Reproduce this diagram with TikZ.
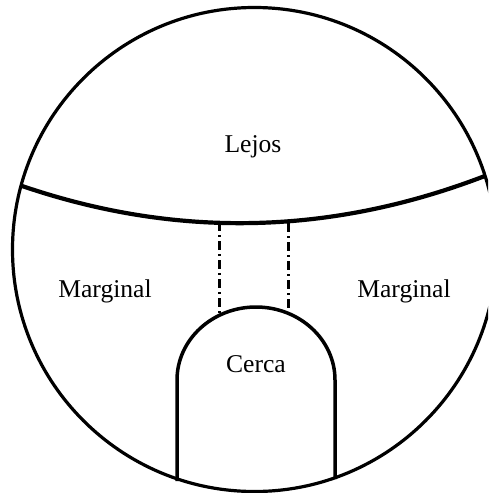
\documentclass[tikz,border=0pt]{standalone}
\usepackage{fontspec}
\setmainfont{Liberation Serif}
\usetikzlibrary{calc}
\tikzset{
  rim/.style={line width=3.2pt},
  divide/.style={line width=4.2pt},
  near/.style={line width=3.5pt},
  guide/.style={line width=3pt,dash pattern=on 9pt off 4pt on 2pt off 4pt},
  zone/.style={font=\fontsize{25.6}{30}\selectfont,anchor=base,inner sep=0pt}
}
\begin{document}
\begin{tikzpicture}[x=1pt,y=-1pt]
  \clip (0,0) rectangle (488,493);
  \coordinate (c) at (254.5,249.5);
  \draw[rim] (c) circle[radius=242];
  % horizon line
  \coordinate (dl) at ($(c)+(195.3:242)$);
  \coordinate (dr) at ($(c)+(342.3:242)$);
  \draw[divide] (dl) .. controls (175.7,238.7) and (330.3,235.5) .. (dr);
  % near zone
  \coordinate (nl) at (177,481);
  \coordinate (nr) at (335,479);
  \draw[near] (nl) -- (177,380) arc[start angle=180,end angle=360,x radius=79,y radius=73] -- (nr);
  \coordinate (gl1) at (219,222);
  \coordinate (gl2) at (219,315);
  \coordinate (gr1) at (288,223);
  \coordinate (gr2) at (288,313);
  \draw[guide] (gl1) -- (gl2);
  \draw[guide] (gr1) -- (gr2);
  \node[zone] (lejos) at (253,152) {Lejos};
  \node[zone] (margl) at (105,297) {Marginal};
  \node[zone] (margr) at (404,297) {Marginal};
  \node[zone] (cerca) at (256,372) {Cerca};
\end{tikzpicture}
\end{document}
